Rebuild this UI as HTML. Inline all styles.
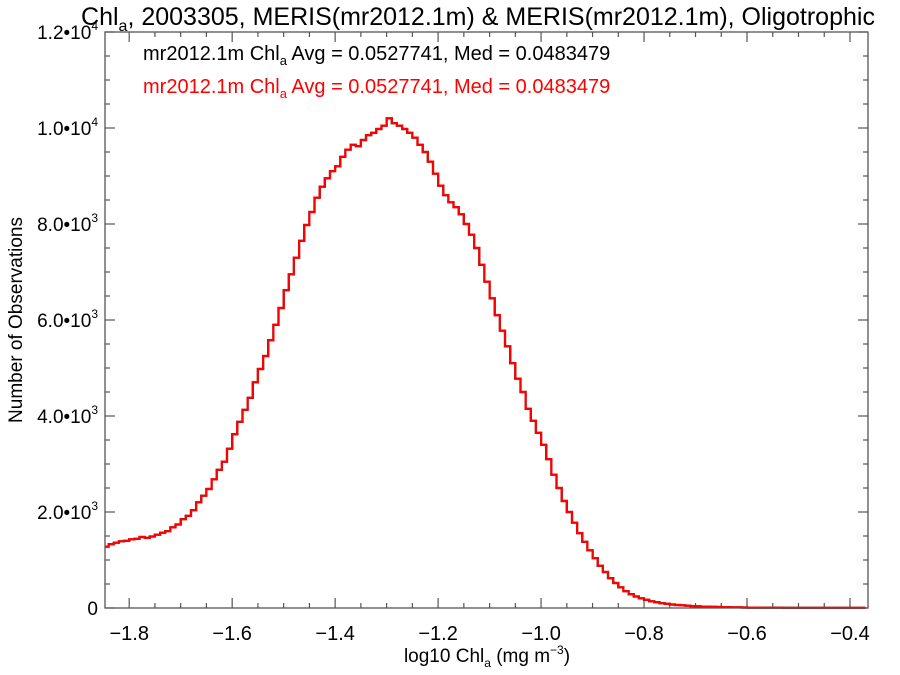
<!DOCTYPE html>
<html><head><meta charset="utf-8"><style>
body{margin:0;background:#fff}
svg{font-family:"Liberation Sans",Arial,sans-serif;display:block}
</style></head><body>
<svg id="chart" width="900" height="675" viewBox="0 0 900 675">
<text x="478" y="25" font-size="25" text-anchor="middle">Chl<tspan font-size="16" dy="6">a</tspan><tspan dy="-6">, 2003305, MERIS(mr2012.1m) &amp; MERIS(mr2012.1m), Oligotrophic</tspan></text>
<text x="143" y="60" font-size="20">mr2012.1m Chl<tspan font-size="13" dy="5">a</tspan><tspan dy="-5"> Avg = 0.0527741, Med = 0.0483479</tspan></text>
<text x="143" y="93" font-size="20" fill="#ff0000">mr2012.1m Chl<tspan font-size="13" dy="5">a</tspan><tspan dy="-5"> Avg = 0.0527741, Med = 0.0483479</tspan></text>
<text x="487" y="662" font-size="19" text-anchor="middle">log10 Chl<tspan font-size="12" dy="5">a</tspan><tspan dy="-5"> (mg m</tspan><tspan font-size="12" dy="-8">−3</tspan><tspan dy="8">)</tspan></text>
<text transform="translate(22,320) rotate(-90)" font-size="19" text-anchor="middle">Number of Observations</text>
<g id="axes"></g>
<g id="series"></g>
<rect x="105" y="32" width="763" height="576" fill="none" stroke="#555" stroke-width="1.3"/>
</svg>
<script>
const binStart = -1.85;
const binWidth = 0.01;
const counts = [1280,1330,1360,1390,1400,1430,1440,1480,1460,1490,1530,1570,1600,1680,1740,1850,1920,2040,2200,2340,2480,2680,2880,3050,3320,3620,3880,4130,4380,4700,4980,5250,5580,5900,6250,6620,6950,7300,7650,7980,8250,8550,8780,8950,9100,9200,9400,9550,9650,9620,9750,9850,9900,9980,10050,10200,10100,10050,9980,9900,9800,9650,9500,9300,9050,8800,8600,8450,8350,8200,8000,7780,7500,7150,6800,6450,6100,5780,5450,5100,4780,4500,4150,3900,3650,3400,3100,2780,2500,2230,2000,1780,1560,1380,1200,1040,880,750,620,520,430,350,290,240,200,170,140,120,100,85,72,62,54,47,40,35,30,27,24,21,18,16,14,12,10,9,8,8,7,7,6,6,5,5,5,4,4,4,3,3,3,3,2,2,2,2,2,2];
const xTicks = [-1.8,-1.6,-1.4,-1.2,-1.0,-0.8,-0.6,-0.4];
const xTickLabels = ["−1.8","−1.6","−1.4","−1.2","−1.0","−0.8","−0.6","−0.4"];
const yTicks = [0,2000,4000,6000,8000,10000,12000];
const yTickMant = ["0","2.0","4.0","6.0","8.0","1.0","1.2"];
const yTickExp = ["","3","3","3","3","4","4"];

const X0=105,X1=868,Y0=608,Y1=32;
const xMin=-1.847,xMax=-0.365,yMax=12000;
function sx(v){return X0+(v-xMin)/(xMax-xMin)*(X1-X0);}
function sy(v){return Y0-v/yMax*(Y0-Y1);}
const NS="http://www.w3.org/2000/svg";
const axes=document.getElementById('axes');
function mk(tag,attrs,parent){const e=document.createElementNS(NS,tag);for(const k in attrs)e.setAttribute(k,attrs[k]);parent.appendChild(e);return e;}

for(let v=-1.85;v<=-0.36;v+=0.05){
  const x=sx(v); if(x<X0||x>X1) continue;
  const isMaj=xTicks.some(t=>Math.abs(t-v)<1e-6);
  const len=isMaj?10:5;
  const t1=mk('line',{x1:x,x2:x,y1:Y0,y2:Y0-len,stroke:'#555','stroke-width':1.2},axes);
  
  
  const t2=mk('line',{x1:x,x2:x,y1:Y1,y2:Y1+len,stroke:'#555','stroke-width':1.2},axes);
  
  
}
xTicks.forEach((v,i)=>{
  const t=mk('text',{x:sx(v),y:640,'font-size':20,'text-anchor':'middle'},axes);
  t.textContent=xTickLabels[i];
  
  
});
for(let v=0;v<=12000;v+=500){
  const y=sy(v); const isMaj=v%2000===0; const len=isMaj?10:5;
  const t1=mk('line',{x1:X0,x2:X0+len,y1:y,y2:y,stroke:'#555','stroke-width':1.2},axes);
  
  
  const t2=mk('line',{x1:X1,x2:X1-len,y1:y,y2:y,stroke:'#555','stroke-width':1.2},axes);
  
  
}
yTicks.forEach((v,i)=>{
  const t=mk('text',{x:98,y:sy(v)+7,'font-size':19,'text-anchor':'end'},axes);
  if(yTickExp[i]===""){t.textContent=yTickMant[i];}
  else{
    t.textContent=yTickMant[i]+"•10";
    const s=mk('tspan',{'font-size':12,dy:-9},t); s.textContent=yTickExp[i];
  }
  
  
});

const ser=document.getElementById('series');
let d="";
counts.forEach((c,i)=>{
  const xa=Math.max(X0,sx(binStart+i*binWidth)), xb=Math.min(X1,sx(binStart+(i+1)*binWidth)), y=sy(c);
  d+=(i===0?"M":"L")+xa.toFixed(1)+","+y.toFixed(1)+"L"+xb.toFixed(1)+","+y.toFixed(1);
});
const pb=mk('path',{d:d,fill:'none',stroke:'#000','stroke-width':2.2},ser);


const pr=mk('path',{d:d,fill:'none',stroke:'#ff0000','stroke-width':2.2},ser);


</script>
</body></html>
